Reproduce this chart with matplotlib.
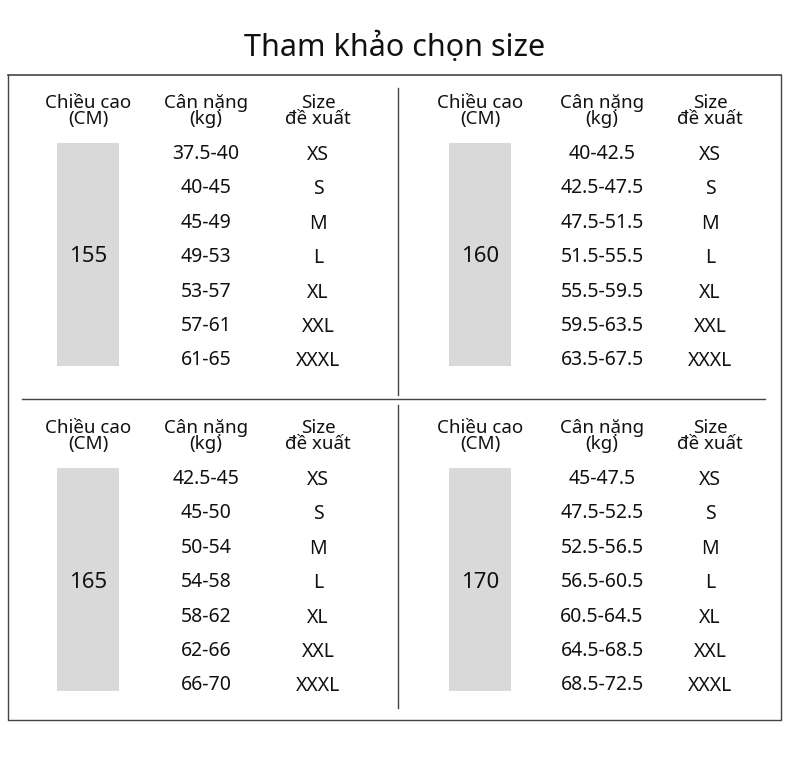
import matplotlib
matplotlib.use("Agg")
import matplotlib.pyplot as plt
from matplotlib.patches import Rectangle

plt.rcParams['font.family'] = ['Noto Sans', 'DejaVu Sans']

title = "Tham khảo chọn size"
headers = ["Chiều cao\n(CM)", "Cân nặng\n(kg)", "Size\nđề xuất"]
heights = ["155", "160", "165", "170"]
weights = [
    ["37.5-40", "40-45", "45-49", "49-53", "53-57", "57-61", "61-65"],
    ["40-42.5", "42.5-47.5", "47.5-51.5", "51.5-55.5", "55.5-59.5", "59.5-63.5", "63.5-67.5"],
    ["42.5-45", "45-50", "50-54", "54-58", "58-62", "62-66", "66-70"],
    ["45-47.5", "47.5-52.5", "52.5-56.5", "56.5-60.5", "60.5-64.5", "64.5-68.5", "68.5-72.5"],
]
sizes = ["XS", "S", "M", "L", "XL", "XXL", "XXXL"]

fig = plt.figure(figsize=(7.9, 7.77), dpi=100)
ax = fig.add_axes([0, 0, 1, 1])
ax.set_xlim(0, 790)
ax.set_ylim(777, 0)
ax.axis('off')

ax.text(395, 47, title, ha='center', va='center', fontsize=22, fontweight='bold', color='#111')
# border
ax.plot([8, 8, 781, 781], [75, 720, 720, 75], color='#444', lw=1)
ax.plot([8, 781], [75, 75], color='#444', lw=1.2)
ax.plot([398, 398], [88, 395], color='#444', lw=1)
ax.plot([398, 398], [405, 708], color='#444', lw=1)
ax.plot([22, 765], [399, 399], color='#444', lw=1)

col_left = [88, 206, 318]
col_right = [480, 602, 710]
for i in range(4):
    cols = col_left if i % 2 == 0 else col_right
    y0 = 0 if i < 2 else 325
    for c, h in zip(cols, headers):
        ax.text(c, 111 + y0, h, ha='center', va='center', fontsize=13.5,
                linespacing=0.85, color='#111')
    ax.add_patch(Rectangle((cols[0] - 31, 143 + y0), 62, 223, color='#d9d9d9', lw=0))
    ax.text(cols[0], 257 + y0, heights[i], ha='center', va='center', fontsize=16, color='#111')
    for r in range(7):
        yy = 154 + y0 + r * 34.4
        ax.text(cols[1], yy, weights[i][r], ha='center', va='center', fontsize=14, color='#111')
        ax.text(cols[2], yy + 1, sizes[r], ha='center', va='center', fontsize=14, color='#111')

fig.savefig("out.png", dpi=100, facecolor='white')
